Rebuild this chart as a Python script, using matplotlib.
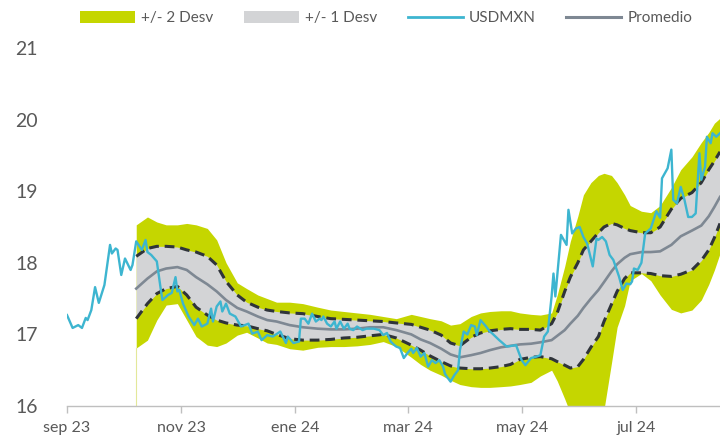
import matplotlib
matplotlib.use("Agg")
import matplotlib.pyplot as plt
from matplotlib.patches import Patch
from matplotlib.lines import Line2D
import pandas as pd

plt.rcParams['font.family'] = ['Lato', 'DejaVu Sans']

BASE = pd.Timestamp('2023-09-01')

# USDMXN spot: days since 2023-09-01 and level
fx_days = [0, 3, 6, 8, 10, 11, 13, 15, 17, 20, 22, 23, 24, 26, 27, 29, 31, 34, 35, 37,
           40, 42, 43, 45, 48, 50, 51, 54, 56, 58, 59, 60, 62, 65, 68, 70, 72, 75, 77, 78,
           80, 82, 83, 85, 87, 90, 93, 97, 99, 102, 104, 107, 110, 114, 117, 118, 121, 124, 125, 127,
           129, 131, 133, 135, 136, 137, 139, 141, 143, 144, 146, 148, 150, 151, 153, 155, 158, 160, 164, 167,
           169, 171, 173, 175, 176, 178, 180, 182, 184, 185, 187, 189, 191, 193, 195, 197, 199, 201, 202, 203,
           205, 207, 209, 210, 212, 214, 216, 218, 219, 221, 224, 226, 227, 231, 235, 240, 243, 245, 248, 251,
           253, 255, 257, 259, 260, 261, 264, 267, 268, 270, 272, 274, 276, 278, 281, 283, 284, 286, 288, 290,
           292, 295, 297, 299, 301, 302, 303, 305, 307, 309, 312, 315, 317, 318, 321, 323, 324, 326, 328, 330,
           332, 334, 336, 338, 339, 341, 342, 344, 345, 347, 349]
fx_vals = [17.27, 17.09, 17.13, 17.09, 17.23, 17.20, 17.34, 17.66, 17.44, 17.69, 18.07, 18.25, 18.13, 18.20, 18.18, 17.83, 18.06, 17.90, 17.97, 18.30,
           18.18, 18.32, 18.15, 18.11, 18.02, 17.65, 17.48, 17.55, 17.58, 17.80, 17.60, 17.62, 17.43, 17.25, 17.13, 17.22, 17.11, 17.15, 17.36, 17.18,
           17.39, 17.46, 17.32, 17.43, 17.29, 17.25, 17.11, 17.15, 17.01, 17.04, 16.92, 16.99, 16.97, 17.04, 16.88, 16.97, 16.88, 16.90, 17.22, 17.22,
           17.15, 17.29, 17.18, 17.22, 17.20, 17.25, 17.15, 17.11, 17.18, 17.08, 17.18, 17.08, 17.15, 17.08, 17.06, 17.11, 17.06, 17.08, 17.08, 17.06,
           16.99, 17.02, 16.90, 16.85, 16.83, 16.81, 16.67, 16.74, 16.80, 16.74, 16.81, 16.69, 16.74, 16.55, 16.64, 16.60, 16.64, 16.55, 16.45, 16.41,
           16.34, 16.43, 16.50, 16.78, 17.04, 17.00, 17.13, 17.11, 16.99, 17.20, 17.11, 17.04, 17.02, 16.92, 16.83, 16.85, 16.64, 16.57, 16.67, 16.69,
           16.71, 16.97, 17.04, 17.53, 17.85, 17.53, 18.39, 18.25, 18.74, 18.41, 18.48, 18.50, 18.36, 18.27, 17.95, 18.34, 18.32, 18.36, 18.30, 18.11,
           18.04, 17.81, 17.62, 17.71, 17.70, 17.74, 17.92, 17.90, 18.00, 18.41, 18.48, 18.72, 18.63, 19.18, 19.32, 19.58, 18.88, 18.83, 19.06, 18.88,
           18.64, 18.64, 18.69, 19.53, 19.16, 19.34, 19.76, 19.67, 19.81, 19.76, 19.81]

# Bands: days since 2023-09-01
band_days = [37, 43, 48, 53, 59, 64, 69, 75, 80, 85, 91, 96, 102, 107, 112, 119, 126, 134, 141, 148,
             155, 162, 169, 176, 184, 189, 194, 200, 205, 210, 216, 221, 226, 232, 237, 242, 248, 253, 259, 262,
             266, 269, 273, 276, 280, 284, 287, 291, 294, 298, 301, 307, 312, 317, 323, 328, 334, 339, 343, 346, 349]
upper2 = [18.53, 18.64, 18.57, 18.53, 18.53, 18.55, 18.53, 18.48, 18.32, 18.00, 17.72, 17.64, 17.55, 17.50, 17.45, 17.45, 17.43, 17.38, 17.34, 17.32,
          17.30, 17.28, 17.25, 17.22, 17.28, 17.25, 17.22, 17.19, 17.13, 17.15, 17.25, 17.30, 17.32, 17.33, 17.33, 17.30, 17.28, 17.27, 17.30, 17.55,
          17.95, 18.30, 18.65, 18.95, 19.12, 19.22, 19.25, 19.22, 19.12, 18.95, 18.80, 18.72, 18.70, 18.80, 19.05, 19.30, 19.48, 19.68, 19.82, 19.95, 20.02]
upper1 = [18.09, 18.20, 18.23, 18.23, 18.22, 18.18, 18.15, 18.09, 17.97, 17.74, 17.55, 17.45, 17.38, 17.34, 17.32, 17.30, 17.29, 17.25, 17.22, 17.21,
          17.20, 17.19, 17.18, 17.16, 17.14, 17.10, 17.06, 16.99, 16.88, 16.84, 16.96, 17.02, 17.05, 17.07, 17.08, 17.07, 17.07, 17.06, 17.15, 17.30,
          17.60, 17.80, 18.00, 18.18, 18.30, 18.42, 18.50, 18.55, 18.53, 18.48, 18.45, 18.42, 18.42, 18.50, 18.75, 18.90, 18.98, 19.12, 19.30, 19.42, 19.55]
mean = [17.64, 17.78, 17.88, 17.92, 17.94, 17.90, 17.80, 17.70, 17.60, 17.48, 17.37, 17.32, 17.25, 17.20, 17.18, 17.13, 17.10, 17.08, 17.07, 17.07,
        17.08, 17.10, 17.10, 17.06, 17.00, 16.93, 16.88, 16.80, 16.72, 16.68, 16.71, 16.74, 16.78, 16.82, 16.84, 16.86, 16.87, 16.89, 16.92, 16.98,
        17.06, 17.15, 17.26, 17.37, 17.50, 17.62, 17.73, 17.88, 17.98, 18.07, 18.12, 18.15, 18.15, 18.16, 18.25, 18.37, 18.45, 18.52, 18.65, 18.78, 18.92]
lower1 = [17.22, 17.43, 17.57, 17.64, 17.67, 17.55, 17.38, 17.27, 17.20, 17.16, 17.13, 17.12, 17.08, 17.05, 17.00, 16.94, 16.92, 16.92, 16.93, 16.95,
          16.96, 16.98, 17.00, 16.95, 16.85, 16.78, 16.70, 16.62, 16.56, 16.53, 16.52, 16.52, 16.53, 16.55, 16.58, 16.65, 16.68, 16.69, 16.66, 16.62,
          16.57, 16.53, 16.55, 16.65, 16.82, 16.97, 17.18, 17.42, 17.60, 17.78, 17.86, 17.86, 17.85, 17.82, 17.81, 17.84, 17.90, 18.03, 18.18, 18.35, 18.55]
lower2 = [16.81, 16.92, 17.20, 17.41, 17.43, 17.20, 16.97, 16.85, 16.83, 16.88, 16.99, 17.03, 16.95, 16.88, 16.86, 16.80, 16.78, 16.82, 16.83, 16.83,
          16.84, 16.86, 16.90, 16.83, 16.68, 16.58, 16.50, 16.43, 16.36, 16.30, 16.27, 16.26, 16.26, 16.27, 16.28, 16.30, 16.33, 16.42, 16.50, 16.35,
          16.10, 15.90, 15.80, 15.75, 15.75, 15.80, 15.95, 16.60, 17.10, 17.40, 17.75, 17.85, 17.75, 17.55, 17.35, 17.30, 17.34, 17.48, 17.70, 17.90, 18.13]

tick_dates = ['2023-09-01', '2023-11-01', '2024-01-01', '2024-03-01', '2024-05-01', '2024-07-01']
tick_labels = ['sep 23', 'nov 23', 'ene 24', 'mar 24', 'may 24', 'jul 24']
y_ticks = [16, 17, 18, 19, 20, 21]

C_YEL = '#c5d600'
C_GRAY = '#d3d4d6'
C_FX = '#3db5d0'
C_MEAN = '#7e8893'
C_DASH = '#2f343a'
C_TXT = '#595959'

fx_x = BASE + pd.to_timedelta(fx_days, unit='D')
bx = BASE + pd.to_timedelta(band_days, unit='D')

fig = plt.figure(figsize=(7.2, 4.38), dpi=100)
ax = fig.add_axes([67/720, 1-406/438, 1-67/720, (406-48)/438])

ax.fill_between(bx, lower2, upper2, color=C_YEL, lw=0, zorder=1)
ax.plot([bx[0], bx[0]], [16, lower2[0]], color='#e3e89a', lw=0.8, zorder=1)
ax.fill_between(bx, lower1, upper1, color=C_GRAY, lw=0, zorder=2)
ax.plot(bx, upper1, color=C_DASH, lw=2.2, dashes=(3.2, 1.9), zorder=3)
ax.plot(bx, lower1, color=C_DASH, lw=2.2, dashes=(3.2, 1.9), zorder=3)
ax.plot(bx, mean, color=C_MEAN, lw=1.9, zorder=4)
ax.plot(fx_x, fx_vals, color=C_FX, lw=1.7, zorder=5)

ax.set_ylim(16, 21)
ax.set_xlim(pd.Timestamp('2023-09-01'), pd.Timestamp('2024-08-15'))
ax.set_yticks(y_ticks)
ax.set_yticklabels([str(t) for t in y_ticks], fontsize=14, color=C_TXT)
ax.set_xticks(pd.to_datetime(tick_dates))
ax.set_xticklabels(tick_labels, fontsize=11.5, color=C_TXT)
ax.tick_params(axis='y', length=0, pad=21)
ax.tick_params(axis='x', length=5, color='#bfbfbf', width=1, pad=6)
for s in ['left', 'right', 'top']:
    ax.spines[s].set_visible(False)
ax.spines['bottom'].set_color('#bfbfbf')
ax.spines['bottom'].set_linewidth(1)
ax.patch.set_alpha(0)

handles = [Patch(facecolor=C_YEL, edgecolor='none'),
           Patch(facecolor=C_GRAY, edgecolor='none'),
           Line2D([], [], color=C_FX, lw=2),
           Line2D([], [], color=C_MEAN, lw=2.2)]
labels = ['+/- 2 Desv', '+/- 1 Desv', 'USDMXN', 'Promedio']
leg = fig.legend(handles, labels, loc='center', bbox_to_anchor=(0.536, 1-18/438), ncol=4,
                 frameon=False, fontsize=11, handlelength=3.6, handleheight=0.8,
                 handletextpad=0.4, columnspacing=2.0)
for t in leg.get_texts():
    t.set_color(C_TXT)

fig.savefig('out.png', dpi=100)
